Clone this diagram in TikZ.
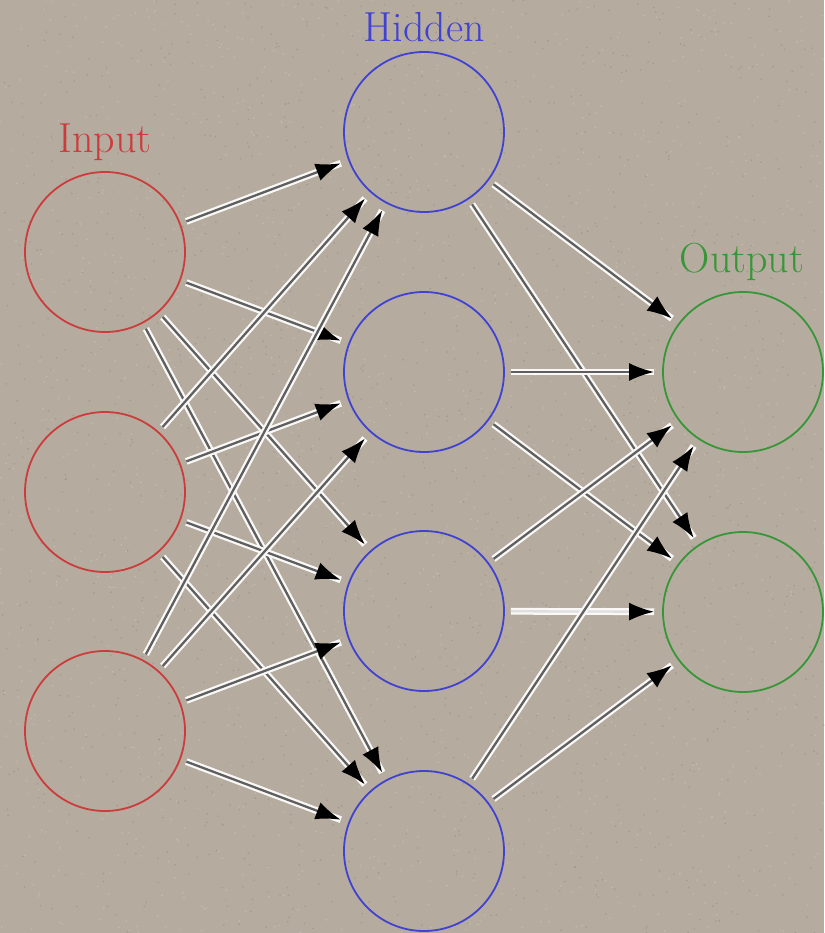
\documentclass[tikz,border=0pt]{standalone}
\usetikzlibrary{arrows.meta}
\definecolor{paper}{RGB}{181,172,159}
\definecolor{inred}{RGB}{205,60,60}
\definecolor{hidblue}{RGB}{65,65,210}
\definecolor{outgreen}{RGB}{55,150,55}
\definecolor{wire}{RGB}{95,95,95}
\tikzset{
  neuron/.style={circle, minimum size=160pt, inner sep=0pt, line width=1.8pt},
  innode/.style={neuron, draw=inred},
  hidnode/.style={neuron, draw=hidblue},
  outnode/.style={neuron, draw=outgreen},
  layerlabel/.style={anchor=base, font=\fontsize{42}{44}\selectfont},
  conn/.style={line width=2.3pt, draw=wire,
    -{Latex[length=25pt,width=18pt,color=black]},
    shorten <=6pt, shorten >=8pt,
    preaction={draw=white!92!paper, line width=6.8pt, -}},
  paleconn/.style={conn, draw=white!75!gray},
  grainlight/.style={fill=white, opacity=0.18},
  graindark/.style={fill=black, opacity=0.10},
}
\begin{document}
\begin{tikzpicture}[x=1pt,y=-1pt]
  \fill[paper] (0,0) rectangle (824,933);
  \useasboundingbox (0,0) rectangle (824,933);

  % paper grain
  \pgfmathsetseed{7}
  \foreach \k in {1,...,1500} {
    \fill[grainlight] (824*rnd,933*rnd) circle (0.9pt);
    \fill[graindark] (824*rnd,933*rnd) circle (0.9pt);
  }

  % layers
  \node[innode] (i1) at (105,252) {};
  \node[innode] (i2) at (105,492) {};
  \node[innode] (i3) at (105,731) {};
  \node[hidnode] (h1) at (424,132) {};
  \node[hidnode] (h2) at (424,372) {};
  \node[hidnode] (h3) at (424,611) {};
  \node[hidnode] (h4) at (424,851) {};
  \node[outnode] (o1) at (743,372) {};
  \node[outnode] (o2) at (743,612) {};

  % labels
  \node[layerlabel, text=inred] (li) at (105,153) {Input};
  \node[layerlabel, text=hidblue] (lh) at (424,42) {Hidden};
  \node[layerlabel, text=outgreen] (lo) at (742,272) {Output};

  % input -> hidden
  \foreach \i in {1,2,3}
    \foreach \h in {1,2,3,4}
      \draw[conn] (i\i) -- (h\h);
  % hidden -> output
  \draw[conn] (h1) -- (o1);
  \draw[conn] (h1) -- (o2);
  \draw[conn] (h2) -- (o1);
  \draw[conn] (h2) -- (o2);
  \draw[conn] (h3) -- (o1);
  \draw[paleconn] (h3) -- (o2);
  \draw[conn] (h4) -- (o1);
  \draw[conn] (h4) -- (o2);
\end{tikzpicture}
\end{document}
